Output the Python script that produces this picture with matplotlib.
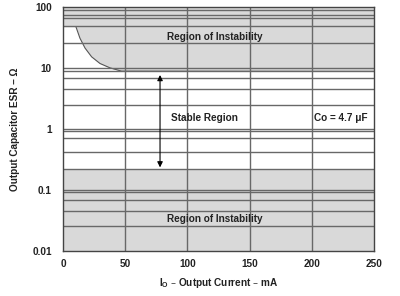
import matplotlib
matplotlib.use('Agg')
import matplotlib.pyplot as plt

plt.rcParams['font.family'] = ['Liberation Sans', 'DejaVu Sans']

# boundary of upper instability region (mA, ohm)
curve_i = [0, 10.4, 13.6, 17.7, 23.0, 29.7, 37.7, 47.1, 250]
curve_esr = [47.6, 47.6, 31, 21.3, 15.3, 11.9, 10.1, 8.9, 8.8]
low_limit = 0.22

# horizontal grid lines as drawn in the original
grid_esr = [89, 74, 66, 49, 26, 10, 8.9, 6.9, 4.6, 2.5, 1, 0.93, 0.71, 0.42,
            0.22, 0.1, 0.093, 0.069, 0.046, 0.026]
grid_i = [50, 100, 150, 200]

xticks = [0, 50, 100, 150, 200, 250]
yticks = [0.01, 0.1, 1, 10, 100]
ylabels = ['0.01', '0.1', '1', '10', '100']

fig = plt.figure(figsize=(4, 2.96), dpi=100)
ax = fig.add_axes([0.1575, 0.152, 0.7775, 0.824])
ax.set_yscale('log')
ax.set_xlim(0, 250)
ax.set_ylim(0.01, 100)

gray = '#d9d9d9'
ax.fill_between(curve_i, curve_esr, 100, color=gray, lw=0, zorder=0)
ax.fill_between([0, 250], 0.01, low_limit, color=gray, lw=0, zorder=0)
ax.plot(curve_i[1:], curve_esr[1:], color='#555555', lw=0.8, zorder=1)

for y in grid_esr:
    ax.axhline(y, color='#686868', lw=1.0, zorder=2)
for x in grid_i:
    ax.axvline(x, color='#686868', lw=1.0, zorder=2)

ax.annotate('', xy=(78, 7.7), xytext=(78, 0.235),
            arrowprops=dict(arrowstyle='<|-|>', color='black', lw=0.8,
                            mutation_scale=8, shrinkA=0, shrinkB=0), zorder=4)

fs = 7.2
ax.text(122, 32, 'Region of Instability', fontsize=fs, fontweight='bold',
        ha='center', va='center', color='#222222', zorder=5)
ax.text(122, 0.033, 'Region of Instability', fontsize=fs, fontweight='bold',
        ha='center', va='center', color='#222222', zorder=5)
ax.text(114, 1.5, 'Stable Region', fontsize=fs, fontweight='bold',
        ha='center', va='center', color='#222222', zorder=5)
ax.text(223, 1.5, 'Co = 4.7 \u03bcF', fontsize=fs, fontweight='bold',
        ha='center', va='center', color='#222222', zorder=5)

ax.set_xticks(xticks)
ax.set_xticklabels([str(t) for t in xticks])
ax.set_yticks(yticks)
ax.set_yticklabels(ylabels)
ax.minorticks_off()
ax.tick_params(length=0, labelsize=fs, colors='#222222')
ax.tick_params(axis='x', pad=6)
ax.tick_params(axis='y', pad=8)
for lab in ax.get_xticklabels() + ax.get_yticklabels():
    lab.set_fontweight('bold')

for s in ax.spines.values():
    s.set_color('#444444')
    s.set_linewidth(1.0)

ax.set_xlabel('I$_\\mathregular{O}$ \u2013 Output Current \u2013 mA', fontsize=fs,
              fontweight='bold', color='#222222', labelpad=5)
ax.set_ylabel('Output Capacitor ESR \u2013 \u03a9', fontsize=fs,
              fontweight='bold', color='#222222', labelpad=9)

fig.savefig('out.png', dpi=100)
